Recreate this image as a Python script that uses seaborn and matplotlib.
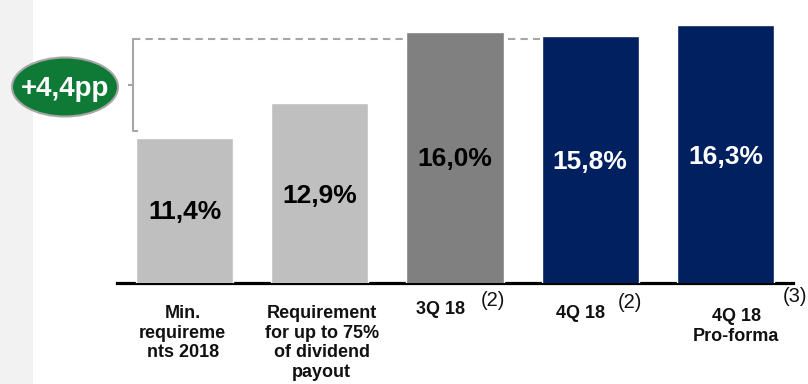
import matplotlib
matplotlib.use("Agg")
import matplotlib.pyplot as plt
import matplotlib.transforms as mtransforms
from matplotlib.patches import Ellipse, Rectangle
import seaborn as sns
import pandas as pd

categories = ["Min.\nrequireme\nnts 2018",
              "Requirement\nfor up to 75%\nof dividend\npayout",
              "3Q 18", "4Q 18", "4Q 18\nPro-forma"]
values = [11.4, 12.9, 16.0, 15.8, 16.3]
value_labels = ["11,4%", "12,9%", "16,0%", "15,8%", "16,3%"]
footnotes = ["", "", "(2)", "(2)", "(3)"]
bar_colors = ["#bfbfbf", "#bfbfbf", "#808080", "#002060", "#002060"]
label_colors = ["black", "black", "black", "white", "white"]
label_y = [8.15, 8.87, 10.48, 10.35, 10.57]
delta_label = "+4,4pp"
ref_level = 15.69
bracket_low = 11.69

sns.set_theme(style="white")
plt.rcParams["font.family"] = ["Liberation Sans", "DejaVu Sans"]

W, H = 808, 384
fig = plt.figure(figsize=(W / 100, H / 100), dpi=100)
fig.patch.set_facecolor("white")
fig.patches.append(Rectangle((0, 0), 33 / W, 1, transform=fig.transFigure,
                             facecolor="#f2f2f2", edgecolor="none", zorder=0))

ax = fig.add_axes([117 / W, (H - 283) / H, 676 / W, 283 / H])
ax.patch.set_alpha(0)

df = pd.DataFrame({"cat": categories, "val": values})
sns.barplot(data=df, x="cat", y="val", hue="cat", palette=bar_colors,
            width=0.72, legend=False, ax=ax, saturation=1, zorder=3)

ax.set_xlim(-0.5, 4.5)
ax.set_ylim(5.08, 17.38)
ax.set_yticks([])
ax.set_ylabel("")
ax.set_xlabel("")
for s in ["top", "right", "left"]:
    ax.spines[s].set_visible(False)
ax.spines["bottom"].set_color("black")
ax.spines["bottom"].set_linewidth(2.3)
ax.tick_params(axis="x", length=0, pad=16)

ax.set_xticks(range(len(categories)))
ax.set_xticklabels(categories, fontsize=13, fontweight="bold",
                   linespacing=1.2, color="#111111")
dx = [-2, 2, -15, -10, 11]
dy = [0, 0, 4, 0, -3]
for lab, ox, oy in zip(ax.get_xticklabels(), dx, dy):
    lab.set_transform(lab.get_transform() +
                      mtransforms.ScaledTranslation(ox / 100, oy / 100, fig.dpi_scale_trans))

# footnote markers
fx = [0, 0, 38, 40, 70]
fy = [0, 0, -18, -19, -14]
for i, fn in enumerate(footnotes):
    if fn:
        ax.annotate(fn, xy=(i, 5.08), xycoords="data",
                    xytext=(fx[i] * 0.72, fy[i] * 0.72), textcoords="offset points",
                    ha="center", va="center", fontsize=14.5, color="#111111",
                    annotation_clip=False)

# value labels
for i, (lab, c, yy) in enumerate(zip(value_labels, label_colors, label_y)):
    ax.text(i, yy, lab, ha="center", va="center", fontsize=19,
            fontweight="bold", color=c, zorder=5)

# dashed reference line (behind bars) and bracket
x0 = (133 - 117) / 135.2 - 0.5
x1 = (540 - 117) / 135.2 - 0.5
ax.plot([x0, x1], [ref_level, ref_level], color="#a6a6a6", lw=1.5,
        dashes=(3.5, 2.5), zorder=1, clip_on=False)
ax.plot([x0, x0], [ref_level, bracket_low], color="#a6a6a6", lw=1.5,
        zorder=1, clip_on=False)
ax.plot([x0, x0 + 5 / 135.2], [bracket_low, bracket_low], color="#a6a6a6",
        lw=1.5, zorder=1, clip_on=False, solid_capstyle="butt")
mid = (ref_level + bracket_low) / 2
ax.plot([x0 - 5 / 135.2, x0], [mid, mid], color="#a6a6a6", lw=1.5,
        zorder=1, clip_on=False, solid_capstyle="butt")

# green ellipse with delta label
fig.patches.append(Ellipse((65 / W, 1 - 87 / H), 106 / W, 59 / H,
                           transform=fig.transFigure, facecolor="#0e7a36",
                           edgecolor="#a6a6a6", linewidth=1.5, zorder=2))
fig.text(65 / W, 1 - 89 / H, delta_label, ha="center", va="center",
         fontsize=20, fontweight="bold", color="white", zorder=3)

fig.savefig("out.png", dpi=100)
